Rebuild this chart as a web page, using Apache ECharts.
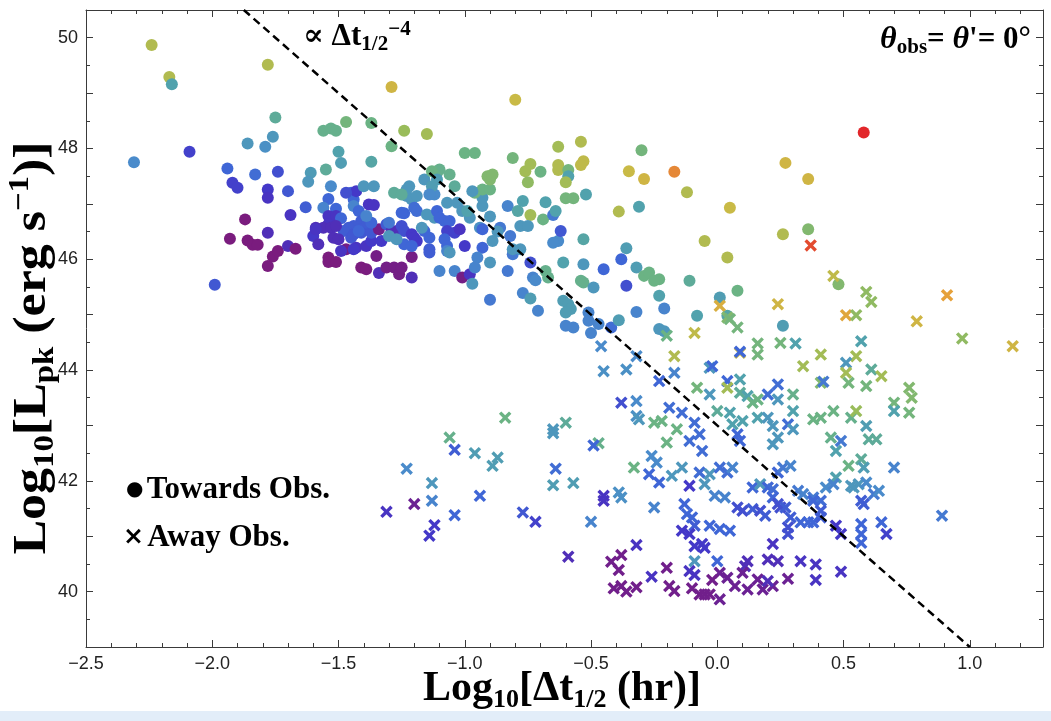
<!DOCTYPE html>
<html><head><meta charset="utf-8">
<script src="https://cdn.jsdelivr.net/npm/echarts@6/dist/echarts.min.js"></script>
<style>html,body{margin:0;padding:0;background:#fff}#c{width:1051px;height:721px}</style>
</head><body><div id="c"></div>
<script>
// [log10 dt_1/2 (hr), log10 L_pk, colour value 0..1]
const towardsObs = [
[-2.24,49.87,0.75],[-2.17,49.29,0.75],[-2.16,49.16,0.5],[-2.31,47.75,0.4],[-2.09,47.94,0.22],[-1.78,49.51,0.75],[-1.29,49.11,0.82],[-0.80,48.88,0.8],[-1.75,48.56,0.55],[-1.76,48.21,0.45],[-1.47,48.48,0.62],[-1.56,48.32,0.58],[-1.53,48.36,0.58],[-1.51,48.32,0.58],[-1.37,48.46,0.6],[-1.24,48.32,0.7],[-1.29,48.04,0.6],[-1.50,47.94,0.5],[-1.49,47.74,0.48],[-1.37,47.76,0.52],[-1.86,48.09,0.45],[-1.79,48.03,0.42],[-1.94,47.64,0.3],[-1.83,47.53,0.32],[-1.74,47.58,0.25],[-1.92,47.38,0.22],[-1.90,47.29,0.22],[-1.78,47.26,0.2],[-1.78,47.11,0.18],[-1.70,47.23,0.27],[-1.61,47.56,0.47],[-1.62,47.40,0.45],[-1.55,47.62,0.55],[-1.53,47.32,0.4],[-1.54,47.09,0.3],[-1.63,46.94,0.28],[-1.56,46.93,0.38],[-1.69,46.80,0.18],[-1.51,46.91,0.3],[-1.45,47.20,0.3],[-1.44,47.08,0.3],[-1.43,47.23,0.2],[-1.40,47.32,0.45],[-1.36,47.32,0.45],[-1.38,46.99,0.18],[-1.36,46.98,0.18],[-1.44,46.96,0.38],[-1.24,46.83,0.3],[-1.22,47.32,0.45],[-1.23,47.14,0.45],[-1.21,47.08,0.45],[-1.87,46.72,0.0],[-1.54,46.78,0.18],[-1.51,46.78,0.18],[-1.93,46.37,0.0],[-1.86,46.34,0.0],[-1.84,46.26,0.0],[-1.82,46.26,0.0],[-1.78,45.88,0.0],[-1.76,46.05,0.0],[-1.74,46.15,0.0],[-1.70,46.24,0.15],[-1.67,46.19,0.0],[-1.78,46.48,0.15],[-1.99,45.54,0.27],[-1.47,47.20,0.25],[-1.42,46.87,0.3],[-1.54,46.63,0.18],[-1.59,46.57,0.15],[-1.56,46.57,0.15],[-1.53,46.57,0.15],[-1.49,46.74,0.3],[-1.41,46.69,0.28],[-1.39,46.60,0.28],[-1.44,46.60,0.28],[-1.46,46.57,0.28],[-1.48,46.51,0.28],[-1.60,46.42,0.2],[-1.58,46.27,0.15],[-1.52,46.39,0.15],[-1.50,46.36,0.15],[-1.45,46.39,0.27],[-1.44,46.45,0.27],[-1.47,46.18,0.02],[-1.49,46.15,0.18],[-1.43,46.21,0.18],[-1.39,46.24,0.18],[-1.37,46.33,0.2],[-1.33,46.33,0.2],[-1.41,46.48,0.27],[-1.37,46.48,0.27],[-1.34,46.54,0.03],[-1.31,46.63,0.28],[-1.35,46.06,0.02],[-1.54,46.03,0.0],[-1.54,45.95,0.0],[-1.51,45.95,0.0],[-1.41,45.85,0.0],[-1.39,45.82,0.0],[-1.34,45.75,0.15],[-1.31,45.85,0.02],[-1.28,45.85,0.02],[-1.26,45.73,0.02],[-1.25,45.85,0.02],[-1.21,45.67,0.15],[-1.21,46.04,0.02],[-1.29,46.51,0.15],[-1.27,46.51,0.15],[-1.30,46.66,0.35],[-1.25,46.60,0.25],[-1.24,46.51,0.25],[-1.25,46.84,0.3],[-1.23,47.26,0.45],[-1.19,47.14,0.45],[-1.20,46.93,0.32],[-1.19,46.87,0.32],[-1.21,46.45,0.2],[-1.20,46.39,0.2],[-1.19,46.33,0.2],[-1.24,46.27,0.3],[-1.21,46.24,0.3],[-1.16,46.51,0.3],[-1.14,46.39,0.3],[-1.17,46.57,0.45],[-1.14,46.18,0.28],[-1.14,46.12,0.28],[-1.10,45.79,0.38],[-1.04,45.79,0.38],[-1.01,45.67,0.02],[-0.98,45.73,0.18],[-0.97,45.56,0.45],[-1.12,46.75,0.45],[-1.15,46.81,0.45],[-1.16,47.44,0.45],[-1.12,47.17,0.4],[-1.11,47.56,0.58],[-1.10,47.62,0.58],[-1.06,47.53,0.58],[-1.04,47.32,0.55],[-1.07,47.02,0.45],[-1.03,47.02,0.45],[-1.01,46.87,0.45],[-1.11,46.87,0.3],[-1.10,46.75,0.3],[-1.08,46.69,0.3],[-1.06,46.69,0.3],[-1.07,46.51,0.22],[-1.04,46.48,0.22],[-1.02,46.54,0.18],[-1.08,46.36,0.3],[-1.07,46.24,0.3],[-1.07,46.15,0.38],[-1.00,46.24,0.2],[-0.93,46.21,0.3],[-0.95,46.03,0.38],[-0.90,45.94,0.45],[-0.96,45.85,0.38],[-0.89,46.33,0.45],[-0.94,46.57,0.42],[-0.98,46.75,0.45],[-0.99,46.87,0.5],[-0.93,46.96,0.45],[-0.93,47.11,0.45],[-0.96,47.20,0.6],[-0.93,47.26,0.6],[-0.90,47.26,0.6],[-0.90,47.44,0.65],[-0.91,47.50,0.65],[-0.89,47.53,0.65],[-1.00,47.92,0.6],[-0.96,47.92,0.6],[-0.81,47.83,0.62],[-0.86,46.57,0.35],[-0.82,46.42,0.35],[-0.83,45.79,0.35],[-0.81,46.09,0.35],[-0.83,46.96,0.38],[-0.79,46.87,0.52],[-1.28,47.20,0.55],[-1.25,47.17,0.55],[-1.15,48.26,0.72],[-1.13,47.59,0.6],[-1.11,47.44,0.48],[-1.13,47.32,0.48],[-0.97,47.23,0.45],[-1.14,47.17,0.4],[-0.90,46.77,0.45],[-0.77,47.05,0.5],[-0.68,47.03,0.5],[-0.74,46.80,0.72],[-0.69,46.72,0.6],[-0.65,46.80,0.35],[-0.64,46.87,0.5],[-0.76,47.59,0.72],[-0.74,47.72,0.72],[-0.70,47.58,0.6],[-0.75,47.39,0.68],[-0.63,48.03,0.72],[-0.54,48.12,0.75],[-0.63,47.70,0.75],[-0.63,47.61,0.75],[-0.59,47.61,0.62],[-0.59,47.50,0.5],[-0.53,47.77,0.78],[-0.54,47.70,0.78],[-0.60,47.39,0.72],[-0.60,47.10,0.62],[-0.57,47.10,0.62],[-0.52,47.17,0.5],[-0.39,46.86,0.75],[-0.35,47.59,0.8],[-0.30,47.97,0.62],[-0.29,47.45,0.82],[-0.17,47.58,0.92],[-0.12,47.21,0.75],[-0.31,46.95,0.5],[0.05,46.93,0.8],[0.58,48.29,1.0],[0.27,47.74,0.82],[0.36,47.45,0.82],[0.26,46.45,0.75],[0.36,46.54,0.65],[0.04,46.03,0.75],[0.08,45.43,0.6],[0.01,45.31,0.48],[0.04,44.98,0.52],[0.26,44.80,0.48],[0.48,45.55,0.65],
[-0.90,45.27,0.35],[-1.06,46.12,0.45],[-0.93,46.54,0.3],[-0.87,46.50,0.45],[-0.78,46.60,0.45],[-0.75,46.60,0.45],[-0.81,46.18,0.45],[-0.78,46.18,0.45],[-0.74,45.94,0.25],[-0.77,45.39,0.38],[-0.74,45.29,0.48],[-0.71,45.07,0.38],[-0.73,45.67,0.38],[-0.72,45.62,0.4],[-0.68,45.79,0.58],[-0.67,45.67,0.58],[-0.63,46.33,0.4],[-0.65,46.30,0.4],[-0.62,46.51,0.27],[-0.61,45.94,0.5],[-0.61,45.25,0.48],[-0.59,45.19,0.48],[-0.58,45.10,0.48],[-0.60,45.04,0.48],[-0.60,44.80,0.38],[-0.57,44.77,0.38],[-0.53,46.36,0.52],[-0.53,45.91,0.45],[-0.54,45.61,0.58],[-0.53,45.58,0.58],[-0.49,45.49,0.45],[-0.45,45.82,0.3],[-0.51,45.04,0.38],[-0.51,44.89,0.38],[-0.47,44.83,0.38],[-0.50,44.67,0.38],[-0.42,44.77,0.32],[-0.39,44.90,0.48],[-0.38,46.00,0.3],[-0.36,46.20,0.48],[-0.36,45.52,0.25],[-0.32,45.85,0.48],[-0.32,45.05,0.38],[-0.29,45.70,0.6],[-0.27,45.76,0.6],[-0.23,45.64,0.6],[-0.25,45.61,0.6],[-0.23,45.34,0.5],[-0.21,45.11,0.38],[-0.23,44.74,0.45],[-0.21,44.70,0.45],[-0.11,45.61,0.55],[-0.08,44.98,0.5],[-0.05,46.33,0.75],
[-1.59,46.54,0.18],[-1.51,46.60,0.15],[-1.44,46.18,0.2],[-1.30,46.42,0.45],[-1.27,46.36,0.45],[-1.42,46.51,0.3],[-1.37,46.66,0.3],[-1.39,46.78,0.38]
];
const awayObs = [
[0.01,45.16,0.85],[0.04,44.95,0.65],[-0.20,44.62,0.6],[-0.09,44.67,0.78],[-0.46,44.43,0.4],[-0.45,43.98,0.42],[-0.84,43.14,0.6],[-0.60,43.05,0.55],[-0.65,42.93,0.45],[0.37,46.25,0.97],[0.46,45.70,0.78],[0.24,45.19,0.82],[0.59,45.41,0.68],[0.61,45.23,0.68],[0.91,45.35,0.9],[0.51,44.99,0.88],[0.55,44.99,0.68],[0.05,44.92,0.62],[0.08,44.77,0.62],[0.79,44.88,0.82],[0.97,44.57,0.68],[1.17,44.43,0.82],[0.57,44.52,0.5],[0.25,44.49,0.62],[0.31,44.48,0.5],[0.16,44.48,0.62],[0.89,41.37,0.35],[0.12,40.55,0.15],[0.11,40.46,0.15],[0.20,40.58,0.15],[0.24,40.55,0.15],[0.33,40.55,0.18],[0.39,40.49,0.18],[0.39,40.21,0.18],[0.49,40.36,0.18],[0.22,40.86,0.18],[0.57,40.88,0.3],
[0.01,40.34,0.05],[0.04,40.25,0.05],[0.07,40.10,0.05],[0.10,40.34,0.05],[0.12,40.04,0.05],[0.16,40.22,0.05],[0.18,40.04,0.05],[0.22,40.10,0.05],[0.28,40.23,0.05],[0.01,39.86,0.05],[0.20,40.19,0.15],
[-1.06,42.78,0.58],[-1.04,42.56,0.28],[-0.96,42.50,0.48],[-0.87,42.42,0.48],[-0.89,42.27,0.48],[-1.23,42.22,0.4],[-1.13,41.96,0.45],[-1.13,41.64,0.38],[-1.20,41.58,0.05],[-1.12,41.20,0.2],[-1.14,41.01,0.2],[-1.04,41.38,0.3],[-0.94,41.73,0.3],[-0.77,41.43,0.27],[-0.72,41.26,0.22],[-0.65,42.86,0.45],[-0.64,42.22,0.32],[-0.65,41.92,0.48],[-0.57,41.96,0.48],[-0.47,42.68,0.58],[-0.49,42.64,0.3],[-0.59,40.63,0.15],[-0.50,41.26,0.38],[-0.45,41.73,0.18],[-0.45,41.64,0.18],[-0.39,41.79,0.42],[-0.38,41.70,0.42],[-0.09,40.82,0.2],[-0.05,40.79,0.2],[-0.06,40.86,0.2],[-0.09,40.55,0.45],[0.00,40.55,0.3],[-0.11,40.37,0.18],[-0.09,40.30,0.18],[-0.32,40.84,0.18],[-0.26,40.27,0.18],
[-0.42,40.54,0.03],[-0.38,40.66,0.03],[-0.39,40.39,0.03],[-0.41,40.06,0.03],[-0.38,40.10,0.03],[-0.36,40.00,0.03],[-0.32,40.08,0.03],[-0.20,40.43,0.03],[-0.19,40.10,0.03],[-0.17,40.01,0.03],[-0.10,40.06,0.03],[-0.07,39.95,0.03],[-0.05,39.95,0.03],[-0.03,39.95,0.03],[-0.02,40.21,0.03],[-1.31,41.44,0.18],
[-0.17,44.25,0.75],[0.09,44.31,0.8],[0.09,44.33,0.3],[0.16,44.28,0.62],[0.34,44.07,0.72],[0.41,44.28,0.72],[0.55,44.25,0.72],[0.51,44.13,0.45],[0.61,44.01,0.55],[0.65,43.89,0.72],[0.51,43.95,0.72],[0.52,43.77,0.62],[0.41,43.77,0.65],[0.42,43.79,0.35],[-0.36,44.01,0.42],[-0.32,44.25,0.4],[-0.17,43.95,0.38],[-0.23,43.80,0.3],[-0.03,44.04,0.45],[-0.02,44.07,0.3],[0.04,43.80,0.3],[0.09,43.83,0.5],[-0.08,43.68,0.62],[-0.03,43.56,0.45],[0.04,43.68,0.72],[0.09,43.59,0.55],[0.12,43.53,0.5],[0.14,43.41,0.6],[0.16,43.47,0.6],[0.20,43.56,0.32],[0.24,43.74,0.32],[0.24,43.47,0.45],[0.30,43.56,0.58],[0.30,43.26,0.5],[0.38,43.11,0.6],[0.41,43.14,0.6],[0.46,43.26,0.6],[0.53,43.14,0.58],[0.55,43.26,0.7],[0.59,42.99,0.48],[0.60,42.75,0.55],[0.63,42.75,0.55],[0.70,43.41,0.62],[0.70,43.26,0.5],[0.76,43.68,0.65],[0.77,43.50,0.65],[0.76,43.23,0.62],[0.59,43.71,0.62],[-0.32,43.44,0.4],[-0.32,43.17,0.42],[-0.31,43.11,0.45],[-0.38,43.41,0.25],[-0.19,43.32,0.32],[-0.14,43.23,0.32],[-0.25,43.05,0.6],[-0.22,43.08,0.6],[-0.16,42.93,0.6],[-0.20,42.69,0.6],[-0.09,43.05,0.32],[-0.11,42.72,0.32],[-0.07,42.84,0.32],[-0.06,42.54,0.32],[0.00,43.26,0.55],[0.05,43.23,0.5],[0.06,43.02,0.5],[0.10,43.08,0.5],[0.08,42.84,0.3],[0.09,42.72,0.3],[0.16,43.14,0.5],[0.20,43.14,0.45],[0.22,42.99,0.45],[0.24,42.78,0.45],[0.22,42.66,0.45],[0.28,43.02,0.32],[0.30,42.93,0.45],[0.45,42.78,0.58],[0.47,42.54,0.5],[0.49,42.72,0.35],[0.57,42.39,0.55],[0.58,42.24,0.48],[0.52,42.27,0.6],[0.47,42.06,0.5],[0.70,42.24,0.38],[-0.33,42.24,0.6],[-0.26,42.45,0.4],[-0.24,42.33,0.4],[-0.27,42.12,0.3],[-0.23,41.97,0.3],[-0.14,42.24,0.45],[-0.18,42.09,0.45],[-0.11,41.91,0.2],[-0.07,42.15,0.32],[-0.03,42.12,0.45],[0.01,42.24,0.32],[0.04,42.15,0.32],[0.06,42.24,0.38],[-0.05,41.94,0.45],[-0.01,41.73,0.38],[0.03,41.70,0.38],[0.14,41.88,0.3],[0.17,41.94,0.45],[0.20,41.88,0.3],[0.22,41.85,0.32],[0.24,42.15,0.3],[0.26,42.24,0.35],[0.29,42.27,0.38],[0.32,41.82,0.35],[0.34,41.76,0.38],[0.38,41.70,0.35],[0.41,41.64,0.32],[0.43,41.88,0.4],[0.46,41.94,0.38],[0.53,41.91,0.45],[0.54,41.88,0.45],[0.56,41.94,0.45],[0.59,41.97,0.4],[0.62,41.76,0.35],[0.64,41.82,0.4],[0.57,41.64,0.28],[0.58,41.58,0.28],[-0.25,41.52,0.38],[-0.13,41.58,0.3],[-0.12,41.40,0.3],[-0.10,41.34,0.3],[-0.09,41.19,0.28],[-0.14,41.10,0.2],[-0.11,41.04,0.2],[-0.03,41.19,0.3],[0.01,41.13,0.3],[0.05,41.10,0.3],[0.08,41.52,0.25],[0.10,41.46,0.25],[0.14,41.49,0.28],[0.17,41.46,0.25],[0.19,41.37,0.28],[0.22,41.70,0.3],[0.24,41.58,0.25],[0.25,41.52,0.25],[0.27,41.52,0.28],[0.29,41.34,0.28],[0.28,41.16,0.25],[0.28,41.04,0.25],[0.33,41.25,0.3],[0.36,41.25,0.3],[0.38,41.25,0.3],[0.38,41.64,0.3],[0.41,41.46,0.28],[0.41,41.34,0.28],[0.47,41.19,0.2],[0.49,41.04,0.2],[0.57,41.22,0.3],[0.57,41.04,0.3],[0.65,41.25,0.3],[0.67,41.04,0.22]
];
// reference line  L ∝ Δt^-4 (end points, data units)
const slopeLine = [[-1.875, 50.5], [1.0, 39.0]];
const xTickLabels = [-2.5, -2.0, -1.5, -1.0, -0.5, 0.0, 0.5, 1.0];
const yTickLabels = [40, 42, 44, 46, 48, 50];
const rainbowColors = ['#7a1c7e','#5b26a8','#4438c8','#3f66d6','#4a8bcb','#51a2ad','#6bb384','#99bc5a','#c9ba46','#e6a13a','#e2262a'];

const serif = "'Liberation Serif', 'DejaVu Serif', serif";
const narrow = "'Liberation Sans Narrow', 'Liberation Sans', sans-serif";
const crossPath = 'path://M0,2.3L2.3,0L6,3.7L9.7,0L12,2.3L8.3,6L12,9.7L9.7,12L6,8.3L2.3,12L0,9.7L3.7,6Z';
const axisColor = '#3a3a3a';

function fmtX(v) {
  const hit = xTickLabels.find(t => Math.abs(t - v) < 1e-6);
  if (hit === undefined) return '';
  return (hit < 0 ? '\u2212' : '') + Math.abs(hit).toFixed(1);
}
function fmtY(v) {
  return yTickLabels.some(t => Math.abs(t - v) < 1e-6) ? String(Math.round(v)) : '';
}

const xTitleRich = {
  m:   { fontFamily: serif, fontWeight: 'bold', fontSize: 42, lineHeight: 48, color: '#000', verticalAlign: 'middle' },
  sub: { fontFamily: serif, fontWeight: 'bold', fontSize: 26, lineHeight: 22, color: '#000', verticalAlign: 'bottom' }
};
const yTitleRich = {
  m:   { fontFamily: serif, fontWeight: 'bold', fontSize: 46, lineHeight: 54, color: '#000', verticalAlign: 'middle' },
  sub: { fontFamily: serif, fontWeight: 'bold', fontSize: 29, lineHeight: 26, color: '#000', verticalAlign: 'bottom' },
  sup: { fontFamily: serif, fontWeight: 'bold', fontSize: 29, lineHeight: 24, color: '#000', verticalAlign: 'top' }
};
const noteRich = {
  m:   { fontFamily: serif, fontWeight: 'bold', fontSize: 31, lineHeight: 36, color: '#000', verticalAlign: 'middle' },
  it:  { fontFamily: serif, fontWeight: 'bold', fontStyle: 'italic', fontSize: 32, lineHeight: 36, color: '#000', verticalAlign: 'middle' },
  sub: { fontFamily: serif, fontWeight: 'bold', fontSize: 21, lineHeight: 18, color: '#000', verticalAlign: 'bottom' },
  sup: { fontFamily: serif, fontWeight: 'bold', fontSize: 21, lineHeight: 12, color: '#000', verticalAlign: 'top' },
  dot: { fontFamily: "'DejaVu Sans', sans-serif", fontSize: 20, lineHeight: 36, color: '#000', verticalAlign: 'middle' },
  x:   { fontFamily: "'DejaVu Sans', sans-serif", fontWeight: 'bold', fontSize: 25, lineHeight: 36, color: '#000', verticalAlign: 'middle' }
};

const baseX = {
  type: 'value', min: -2.5, max: 1.29, interval: 0.5,
  axisLine: { show: true, onZero: false, lineStyle: { color: axisColor, width: 1 } },
  axisTick: { show: true, inside: true, length: 7, lineStyle: { color: axisColor } },
  minorTick: { show: true, splitNumber: 5, length: 4, lineStyle: { color: axisColor } },
  splitLine: { show: false }, minorSplitLine: { show: false }
};
const baseY = {
  type: 'value', min: 39, max: 50.5, interval: 1,
  axisLine: { show: true, onZero: false, lineStyle: { color: axisColor, width: 1 } },
  axisTick: { show: true, inside: true, length: 7, lineStyle: { color: axisColor } },
  minorTick: { show: true, splitNumber: 2, length: 4, lineStyle: { color: axisColor } },
  splitLine: { show: false }, minorSplitLine: { show: false }
};

const chart = echarts.init(document.getElementById('c'), null, { renderer: 'canvas' });
chart.setOption({
  backgroundColor: '#ffffff',
  animation: false,
  grid: { left: 86, right: 8, top: 10, bottom: 74, containLabel: false, outerBoundsMode: 'none' },
  xAxis: [
    Object.assign({}, baseX, {
      position: 'bottom',
      axisLabel: { formatter: fmtX, fontFamily: narrow, fontSize: 18, color: '#222', margin: 8 }
    }),
    Object.assign({}, baseX, { position: 'top', axisLabel: { show: false } })
  ],
  yAxis: [
    Object.assign({}, baseY, {
      position: 'left',
      axisLabel: { formatter: fmtY, fontFamily: narrow, fontSize: 18, color: '#222', margin: 8 }
    }),
    Object.assign({}, baseY, { position: 'right', axisLabel: { show: false } })
  ],
  visualMap: [{
    type: 'continuous', show: false, dimension: 2, min: 0, max: 1,
    seriesIndex: [0, 1], inRange: { color: rainbowColors }
  }],
  series: [
    { name: 'Towards Obs.', type: 'scatter', data: towardsObs, symbol: 'circle', symbolSize: 12,
      itemStyle: { opacity: 1 }, z: 2, silent: true },
    { name: 'Away Obs.', type: 'scatter', data: awayObs, symbol: crossPath, symbolSize: 12.5,
      itemStyle: { opacity: 1 }, z: 3, silent: true },
    { name: 'slope', type: 'line', data: slopeLine, symbol: 'none', silent: true, z: 4,
      lineStyle: { color: '#000', width: 2.5, type: [8, 5] } }
  ],
  graphic: [
    { type: 'rect', left: 0, top: 711, shape: { width: 1051, height: 10 }, style: { fill: '#e2edf9' }, silent: true },
    { type: 'text', x: 562, y: 689,
      style: { text: '{m|Log}{sub|10}{m|[\u0394t}{sub|1/2}{m| (hr)]}', rich: xTitleRich, align: 'center', verticalAlign: 'middle' } },
    { type: 'text', x: 33, y: 348, rotation: Math.PI / 2, scaleX: 1.13, scaleY: 1,
      style: { text: '{m|Log}{sub|10}{m|[L}{sub|pk}{m| (erg s}{sup|\u22121}{m|)]}', rich: yTitleRich, align: 'center', verticalAlign: 'middle' } },
    { type: 'text', left: 303, top: 19, style: { text: '{m|\u221D \u0394t}{sub|1/2}{sup|\u22124}', rich: noteRich } },
    { type: 'text', right: 20, top: 24, style: { text: '{it|\u03B8}{sub|obs}{m|= }{it|\u03B8}{m|\'= 0\u00B0}', rich: noteRich } },
    { type: 'text', left: 126, top: 474, style: { text: '{dot|\u25CF} {m|Towards Obs.}', rich: noteRich } },
    { type: 'text', left: 123, top: 522, style: { text: '{x|\u00D7} {m|Away Obs.}', rich: noteRich } }
  ]
});
</script>
</body></html>
